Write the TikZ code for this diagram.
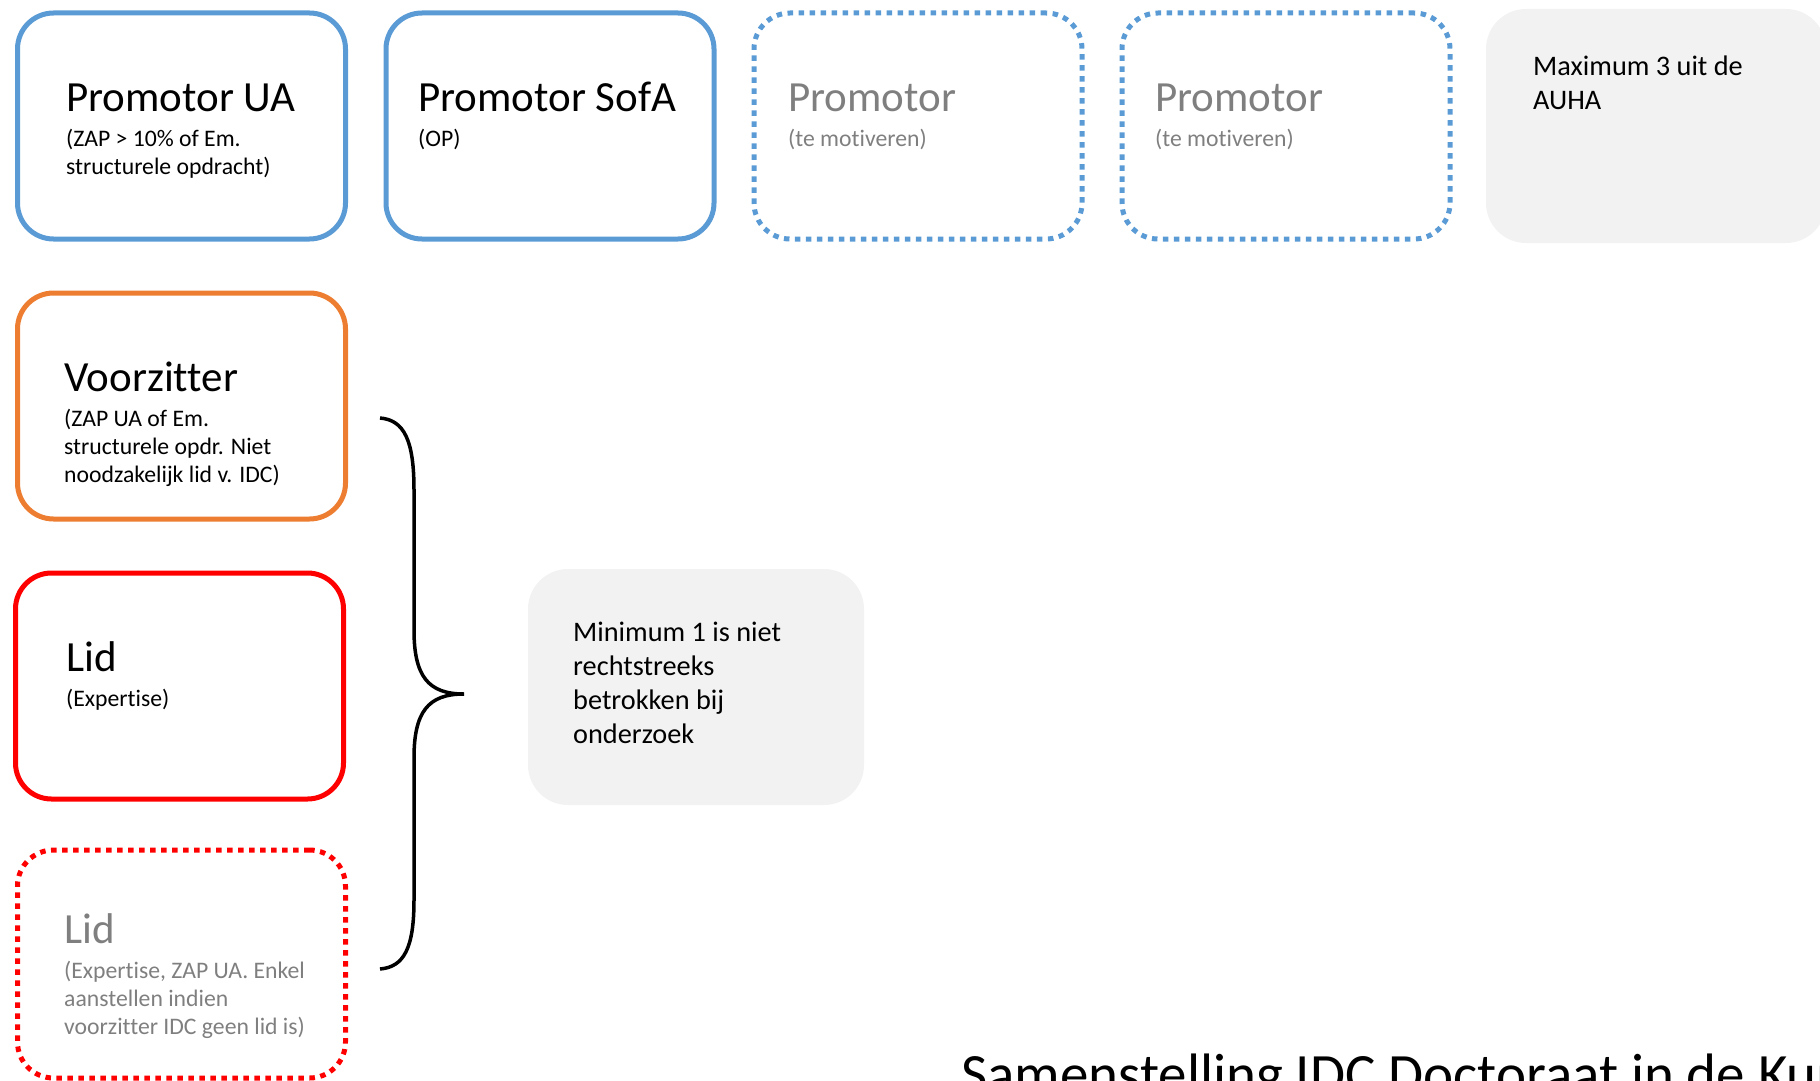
\documentclass[tikz,border=0pt]{standalone}
\usepackage{fontspec}
\setmainfont{Carlito}[Ligatures={NoCommon}]
\usetikzlibrary{calc}
\definecolor{boxblue}{HTML}{5B9BD5}
\definecolor{boxorange}{HTML}{ED7D31}
\definecolor{boxred}{HTML}{FF0000}
\definecolor{notegrey}{HTML}{F2F2F2}
\definecolor{txtgrey}{HTML}{7F7F7F}
\newcommand\mylines[1]{\begin{tabular}[t]{@{}l@{}}#1\end{tabular}}
\tikzset{
  card/.style={rectangle, rounded corners=36pt, line width=5pt, minimum width=328pt, minimum height=226pt, inner sep=0pt},
  dotline/.style={dash pattern=on 5.5pt off 5.5pt},
  note/.style={rectangle, rounded corners=40pt, fill=notegrey, inner sep=0pt},
  ttl/.style={anchor=base west, inner sep=0pt, font=\fontsize{43}{50}\selectfont},
  sub/.style={anchor=base west, inner sep=0pt, font=\fontsize{23.7}{28}\selectfont},
  notetxt/.style={anchor=base west, inner sep=0pt, font=\fontsize{28.3}{34}\selectfont},
}
\begin{document}
\begin{tikzpicture}[x=1pt,y=-1pt]
\useasboundingbox (0,0) rectangle (1820,1081);
\clip (0,0) rectangle (1820,1081);
% top row
\node[card, draw=boxblue] (pua) at (181.5,126) {};
\node[card, draw=boxblue] (psofa) at (550,126) {};
\node[card, draw=boxblue, dotline] (p3) at (918,126) {};
\node[card, draw=boxblue, dotline] (p4) at (1286,126) {};
\node[note, minimum width=340pt, minimum height=234pt] (max) at (1656,126) {};
% left column
\node[card, draw=boxorange] (vz) at (181.5,406) {};
\node[card, draw=boxred] (lid) at (179.5,686) {};
\node[card, draw=boxred, dotline, minimum height=228pt] (lid2) at (181.5,964) {};
% note
\node[note, minimum width=336pt, minimum height=236pt] (min) at (696,687) {};
% texts
\node[ttl] (t1) at (66,111) {Promotor UA};
\node[sub] (s1) at (66,146) {\mylines{(ZAP > 10\% of Em.\\structurele opdracht)}};
\node[ttl] (t2) at (418,111) {Promotor SofA};
\node[sub] (s2) at (418,146) {(OP)};
\node[ttl, text=txtgrey] (t3) at (788,111) {Promotor};
\node[sub, text=txtgrey] (s3) at (788,146) {(te motiveren)};
\node[ttl, text=txtgrey] (t4) at (1155,111) {Promotor};
\node[sub, text=txtgrey] (s4) at (1155,146) {(te motiveren)};
\node[notetxt] (mt) at (1533,75) {\mylines{Maximum 3 uit de\\AUHA}};
\node[ttl] (t5) at (64,391) {Voorzitter};
\node[sub] (s5) at (64,426) {\mylines{(ZAP UA of Em.\\structurele opdr. Niet\\noodzakelijk lid v. IDC)}};
\node[ttl] (t6) at (66,671) {Lid};
\node[sub] (s6) at (66,706) {(Expertise)};
\node[ttl, text=txtgrey] (t7) at (64,943) {Lid};
\node[sub, text=txtgrey] (s7) at (64,978) {\mylines{(Expertise, ZAP UA. Enkel\\aanstellen indien\\voorzitter IDC geen lid is)}};
\node[notetxt] (nt) at (573,641) {\mylines{Minimum 1 is niet\\rechtstreeks\\betrokken bij\\onderzoek}};
% brace
\coordinate (btop) at (380,418);
\coordinate (btip) at (464,694);
\coordinate (bbot) at (380,969);
\draw[line width=3.5pt] (btop) .. controls (404,420) and (414,440) .. (414,490) -- (414,630)
  .. controls (414,676) and (428,694) .. (btip)
  .. controls (428,694) and (414,712) .. (414,758) -- (414,900)
  .. controls (414,948) and (404,967) .. (bbot);
% bottom title
\node[anchor=base west, inner sep=0pt, font=\fontsize{57}{68}\selectfont] (title) at (961,1093) {Samenstelling IDC Doctoraat in de Kunsten};
\end{tikzpicture}
\end{document}
